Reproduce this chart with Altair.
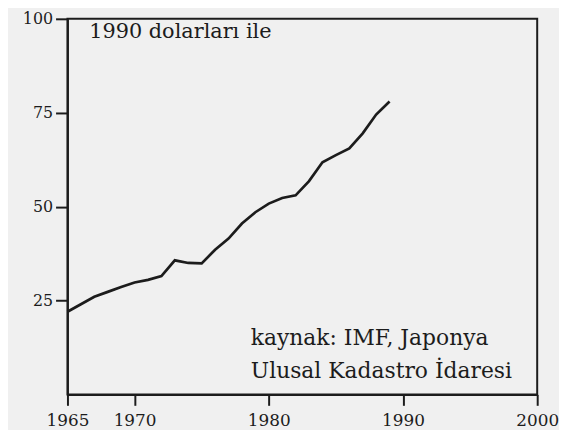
import altair as alt
import pandas as pd

years = [1965, 1966, 1967, 1968, 1969, 1970, 1971, 1972, 1973, 1974, 1975, 1976, 1977,
         1978, 1979, 1980, 1981, 1982, 1983, 1984, 1985, 1986, 1987, 1988, 1989]
values = [22.0, 24.0, 26.0, 27.3, 28.6, 29.8, 30.5, 31.5, 35.7, 35.0, 34.9, 38.5, 41.5,
          45.5, 48.5, 50.8, 52.3, 53.0, 56.8, 61.8, 63.7, 65.5, 69.5, 74.5, 78.0]
x_ticks = [1965, 1970, 1980, 1990, 2000]
y_ticks = [25, 50, 75, 100]
unit_label = "1990 dolarları ile"
source_lines = ["kaynak: IMF, Japonya", "Ulusal Kadastro İdaresi"]

df = pd.DataFrame({"yil": years, "deger": values})

FONT = "DejaVu Serif"
INK = "#1c1c1c"
W, H = 474, 379

line = alt.Chart(df).mark_line(color=INK, strokeWidth=2.7).encode(
    x=alt.X("yil:Q", scale=alt.Scale(domain=[1965, 2000], nice=False, zero=False),
            axis=alt.Axis(values=x_ticks, format="d", title=None, grid=False,
                          domainColor=INK, domainWidth=2, tickColor=INK, tickWidth=2,
                          tickSize=11, labelPadding=7, labelFont=FONT, labelFontSize=17,
                          labelColor=INK, labelFlush=False)),
    y=alt.Y("deger:Q", scale=alt.Scale(domain=[0, 100], nice=False),
            axis=alt.Axis(values=y_ticks, title=None, grid=False,
                          domainColor=INK, domainWidth=2, tickColor=INK, tickWidth=2,
                          tickSize=12, labelPadding=3, labelFont=FONT, labelFontSize=16,
                          labelColor=INK, labelFlush=False)),
)


def note(text, px, py, size):
    return alt.Chart(pd.DataFrame({"t": [text]})).mark_text(
        align="left", baseline="middle", font=FONT, fontSize=size, color=INK
    ).encode(x=alt.value(px), y=alt.value(py), text="t:N")


top_text = note(unit_label, 22, 13, 21)
src1 = note(source_lines[0], 185, 322, 22)
src2 = note(source_lines[1], 185, 355, 22)

chart = alt.layer(line, top_text, src1, src2).properties(
    width=W, height=H,
    autosize=alt.AutoSizeParams(type="none"),
    padding={"left": 60, "top": 9, "right": 22, "bottom": 34},
    background="#f0f0f0",
).configure_view(stroke=INK, strokeWidth=2)

chart.save("out.html", embed_options={"renderer": "svg", "actions": False})
